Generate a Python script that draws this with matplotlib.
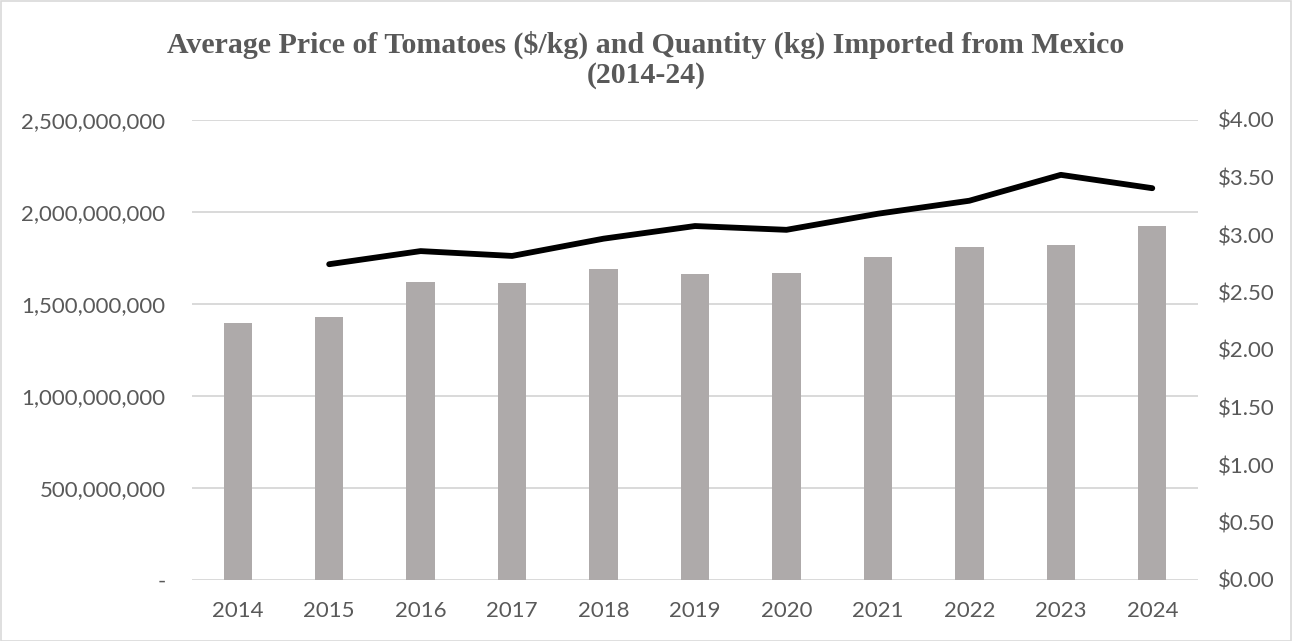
import matplotlib
matplotlib.use("Agg")
import matplotlib.pyplot as plt
from matplotlib.patches import Rectangle
from matplotlib.ticker import FuncFormatter, MultipleLocator

years = ["2014", "2015", "2016", "2017", "2018", "2019", "2020", "2021", "2022", "2023", "2024"]
quantity_kg = [1395e6, 1428e6, 1620e6, 1614e6, 1689e6, 1663e6, 1669e6, 1756e6, 1809e6, 1822e6, 1923e6]
price_years = ["2015", "2016", "2017", "2018", "2019", "2020", "2021", "2022", "2023", "2024"]
price_per_kg = [2.746, 2.860, 2.818, 2.968, 3.078, 3.045, 3.185, 3.298, 3.523, 3.407]

title = "Average Price of Tomatoes ($/kg) and Quantity (kg) Imported from Mexico\n(2014-24)"

TXT = "#595959"
GRID = "#D9D9D9"
BAR = "#AEAAAA"

fig = plt.figure(figsize=(12.92, 6.41), dpi=100)
ax = fig.add_axes([192 / 1292, 1 - 580 / 641, (1198 - 192) / 1292, (580 - 120) / 641])
ax2 = ax.twinx()

x = list(range(len(years)))
ax.bar(x, quantity_kg, width=0.31, color=BAR, zorder=2)
px = [years.index(y) for y in price_years]
ax2.plot(px, price_per_kg, color="black", lw=4.2, solid_capstyle="round",
         solid_joinstyle="round", zorder=3)

ax.set_xlim(-0.5, len(years) - 0.5)
ax.set_ylim(0, 2.5e9)
ax2.set_ylim(0, 4.0)
ax.yaxis.set_major_locator(MultipleLocator(5e8))
ax2.yaxis.set_major_locator(MultipleLocator(0.5))
ax.yaxis.set_major_formatter(FuncFormatter(lambda v, p: "-" if v == 0 else f"{v:,.0f}"))
ax2.yaxis.set_major_formatter(FuncFormatter(lambda v, p: f"${v:.2f}"))
ax.set_xticks(x)
ax.set_xticklabels(years)

ax.set_axisbelow(True)
ax.grid(axis="y", color=GRID, lw=1.4, zorder=0)
for a in (ax, ax2):
    for s in a.spines.values():
        s.set_visible(False)
    a.tick_params(length=0, labelsize=16, labelcolor=TXT)
ax.tick_params(axis="y", pad=19)
ax2.tick_params(axis="y", pad=14)
ax.tick_params(axis="x", pad=15)
for lab in ax.get_xticklabels() + ax.get_yticklabels() + ax2.get_yticklabels():
    lab.set_fontfamily(["Lato", "DejaVu Sans"])

ax.patch.set_visible(False)

fig.text(0.5, 1 - 60 / 641, title, ha="center", va="center", fontsize=21.5,
         fontweight="bold", color=TXT, family=["Liberation Serif", "DejaVu Serif"],
         linespacing=1.12)

fig.patches.append(Rectangle((0.5 / 1292, 0.5 / 641), 1 - 1.5 / 1292, 1 - 1.5 / 641,
                             transform=fig.transFigure, fill=False, edgecolor=GRID, lw=1.2))

fig.savefig("out.png", dpi=100)
